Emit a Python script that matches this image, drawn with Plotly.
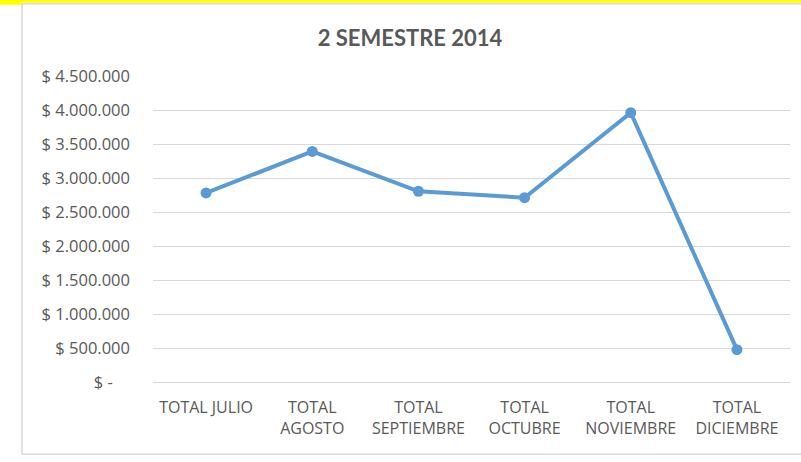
import plotly.graph_objects as go

categories = ["TOTAL JULIO", "TOTAL<br>AGOSTO", "TOTAL<br>SEPTIEMBRE", "TOTAL<br>OCTUBRE",
              "TOTAL<br>NOVIEMBRE", "TOTAL<br>DICIEMBRE"]
values = [2780000, 3390000, 2805000, 2710000, 3960000, 476000]
tick_vals = [0, 500000, 1000000, 1500000, 2000000, 2500000, 3000000, 3500000, 4000000, 4500000]
tick_text = ["$ -\u00a0\u00a0\u00a0\u00a0", "$ 500.000", "$ 1.000.000", "$ 1.500.000", "$ 2.000.000",
             "$ 2.500.000", "$ 3.000.000", "$ 3.500.000", "$ 4.000.000", "$ 4.500.000"]

W, H = 801, 462
L, R, T, B = 153, 790, 75.5, 382.5
pw, ph = R - L, B - T

def px(x):
    return (x - L) / pw

def py(y):
    return (B - y) / ph

fig = go.Figure()
fig.add_trace(go.Scatter(
    x=list(range(len(categories))), y=values, mode="lines+markers",
    line=dict(color="#5B9BD5", width=4),
    marker=dict(color="#5B9BD5", size=11),
    hoverinfo="skip", showlegend=False,
))

fig.update_layout(
    width=W, height=H,
    margin=dict(l=L, r=W - R, t=T, b=H - B, pad=0),
    paper_bgcolor="white", plot_bgcolor="white",
    title=dict(text="<b>2 SEMESTRE 2014</b>", x=410 / W, xanchor="center",
               y=1 - 38 / H, yanchor="middle", yref="container",
               font=dict(family="Lato", size=22, color="#595959")),
    xaxis=dict(range=[-0.5, 5.5], tickvals=list(range(len(categories))), ticktext=categories,
               showgrid=False, zeroline=False, showline=False, ticks="",
               ticklabelstandoff=14,
               tickfont=dict(family="Open Sans", size=16, color="#595959")),
    yaxis=dict(range=[0, 4500000], tickvals=tick_vals, ticktext=tick_text,
               showgrid=True, gridcolor="#D9D9D9", gridwidth=1.2,
               zeroline=True, zerolinecolor="#D9D9D9", zerolinewidth=1.2,
               showline=False, ticks="", ticklabelstandoff=22,
               tickfont=dict(family="Open Sans", size=16.5, color="#595959")),
    shapes=[
        dict(type="line", xref="paper", yref="paper", x0=px(22), x1=px(805), y0=py(3), y1=py(3),
             line=dict(color="#D9D9D9", width=1.5)),
        dict(type="line", xref="paper", yref="paper", x0=px(22), x1=px(805), y0=py(455), y1=py(455),
             line=dict(color="#D9D9D9", width=1.5)),
        dict(type="line", xref="paper", yref="paper", x0=px(22), x1=px(22), y0=py(3), y1=py(455),
             line=dict(color="#D9D9D9", width=1.5)),
        dict(type="rect", xref="paper", yref="paper", x0=px(-2), x1=px(805), y0=py(-2), y1=py(2),
             fillcolor="#FFFF00", line=dict(width=0)),
        dict(type="rect", xref="paper", yref="paper", x0=px(-2), x1=px(22), y0=py(-2), y1=py(4),
             fillcolor="#FFFF00", line=dict(width=0)),
    ],
)
fig.write_html("out.html", config={"displayModeBar": False})

with open("out.html", "r", encoding="utf-8") as f:
    html = f.read()
html = html.replace("<head>", "<head><style>html,body{margin:0;padding:0;overflow:hidden;}</style>", 1)
with open("out.html", "w", encoding="utf-8") as f:
    f.write(html)
